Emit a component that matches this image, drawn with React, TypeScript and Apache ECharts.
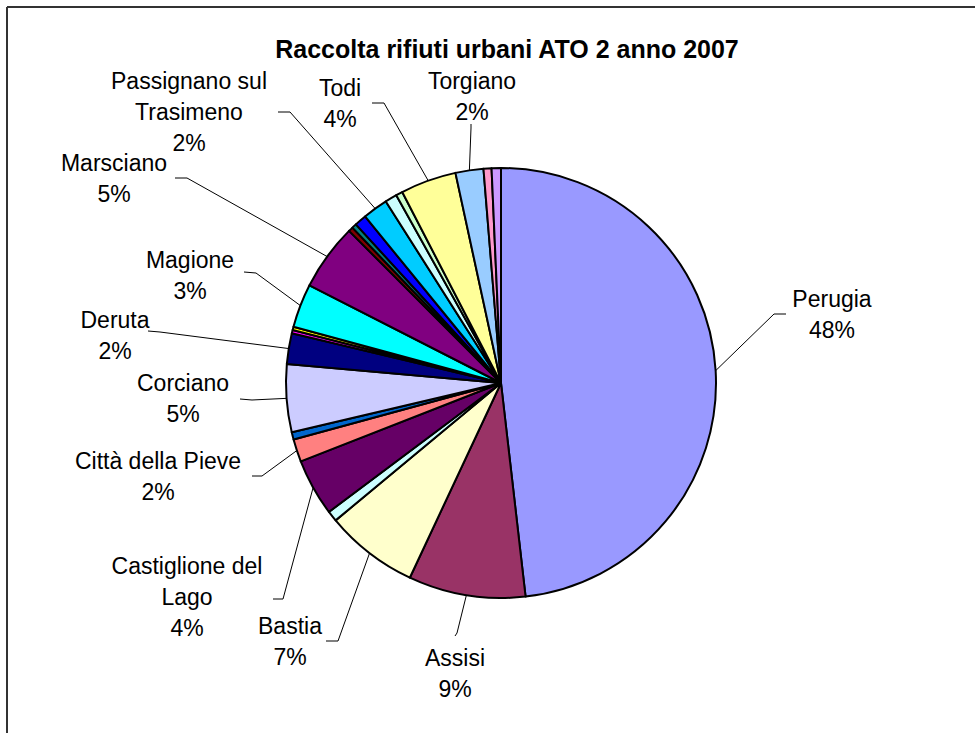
import React, { useEffect, useRef } from "react";
import * as echarts from "echarts";

const titleText = "Raccolta rifiuti urbani ATO 2 anno 2007";

const municipalities = [
  "Perugia", "Assisi", "Bastia", "Bettona", "Castiglione del Lago",
  "Città della Pieve", "Collazzone", "Corciano", "Deruta", "Fratta Todina",
  "Lisciano Niccone", "Magione", "Marsciano", "Massa Martana",
  "Monte Castello di Vibio", "Panicale", "Passignano sul Trasimeno", "Piegaro",
  "San Venanzo", "Todi", "Torgiano", "Tuoro sul Trasimeno", "Valfabbrica",
];

const shares = [
  48.2, 8.8, 7.0, 0.8, 4.3, 1.7, 0.55, 5.1, 2.3, 0.25, 0.25, 3.3, 5.0, 0.35,
  0.35, 0.9, 1.9, 0.9, 0.5, 4.2, 2.1, 0.6, 0.7,
];

const sliceColors = [
  "#9999FF", "#993366", "#FFFFCC", "#CCFFFF", "#660066", "#FF8080", "#0066CC",
  "#CCCCFF", "#000080", "#FF00FF", "#FFFF00", "#00FFFF", "#800080", "#800000",
  "#008080", "#0000FF", "#00CCFF", "#CCFFFF", "#CCFFCC", "#FFFF99", "#99CCFF",
  "#FF99CC", "#CC99FF",
];

// label texts shown (multi-line names) for labelled slices
const labelNames: Record<string, string> = {
  "Perugia": "Perugia",
  "Assisi": "Assisi",
  "Bastia": "Bastia",
  "Castiglione del Lago": "Castiglione del\nLago",
  "Città della Pieve": "Città della Pieve",
  "Corciano": "Corciano",
  "Deruta": "Deruta",
  "Magione": "Magione",
  "Marsciano": "Marsciano",
  "Passignano sul Trasimeno": "Passignano sul\nTrasimeno",
  "Todi": "Todi",
  "Torgiano": "Torgiano",
};

// label placement: [centerX, centerY, elbowX, elbowY, endX, endY]
const labelPlacement: Record<string, number[]> = {
  "Perugia": [832, 314, 774, 314, 786, 314],
  "Assisi": [455, 673, 457, 633, 455, 636],
  "Bastia": [290, 641, 338, 641, 326, 641],
  "Castiglione del Lago": [187, 597, 283, 599, 273, 599],
  "Città della Pieve": [158, 476, 262, 476, 252, 476],
  "Corciano": [183, 398, 252, 400, 240, 399],
  "Deruta": [115, 335, 160, 332, 148, 331],
  "Magione": [190, 275, 256, 273, 244, 272],
  "Marsciano": [114, 178, 187, 178, 175, 178],
  "Passignano sul Trasimeno": [189, 112, 290, 112, 278, 112],
  "Todi": [340, 103, 384, 103, 372, 103],
  "Torgiano": [472, 96, 471, 128, 471, 124],
};

const FONT = "'Liberation Sans', Arial, sans-serif";

export default function App() {
  const ref = useRef<HTMLDivElement>(null);
  useEffect(() => {
    document.body.style.margin = "0";
    if (!ref.current) return;
    const chart = echarts.init(ref.current, undefined, { renderer: "svg" });
    const data = municipalities.map((name, i) => {
      const shown = name in labelNames;
      return {
        name,
        value: shares[i],
        itemStyle: { color: sliceColors[i] },
        label: { show: shown },
        labelLine: { show: shown },
      };
    });
    chart.setOption({
      animation: false,
      backgroundColor: "#ffffff",
      title: {
        text: titleText,
        left: 502,
        top: 31,
        textAlign: "center",
        textStyle: { fontFamily: FONT, fontSize: 25, fontWeight: "bold", color: "#000" },
      },
      graphic: [
        { type: "line", shape: { x1: 7, y1: 7, x2: 975, y2: 7 }, style: { stroke: "#333", lineWidth: 2 } },
        { type: "line", shape: { x1: 7, y1: 7, x2: 7, y2: 733 }, style: { stroke: "#333", lineWidth: 2 } },
      ],
      series: [
        {
          type: "pie",
          center: [501, 383],
          radius: 215,
          startAngle: 90,
          clockwise: true,
          minAngle: 0,
          avoidLabelOverlap: false,
          itemStyle: { borderColor: "#000", borderWidth: 2 },
          emphasis: { disabled: true },
          label: {
            show: true,
            position: "outside",
            fontFamily: FONT,
            fontSize: 23,
            lineHeight: 31,
            color: "#000",
            formatter: (p: any) =>
              (labelNames[p.name] || p.name) + "\n" + Math.round(p.percent) + "%",
          },
          labelLine: {
            show: true,
            length: 20,
            length2: 10,
            lineStyle: { color: "#000", width: 1 },
          },
          labelLayout: (params: any) => {
            const name = municipalities[params.dataIndex];
            const pl = labelPlacement[name];
            if (!pl) return {};
            const start = params.labelLinePoints ? params.labelLinePoints[0] : [pl[2], pl[3]];
            return {
              x: pl[0],
              y: pl[1],
              align: "center",
              verticalAlign: "middle",
              labelLinePoints: [start, [pl[2], pl[3]], [pl[4], pl[5]]],
            };
          },
          data,
        },
      ],
    });
    return () => chart.dispose();
  }, []);
  return <div ref={ref} style={{ width: 975, height: 733 }} />;
}
